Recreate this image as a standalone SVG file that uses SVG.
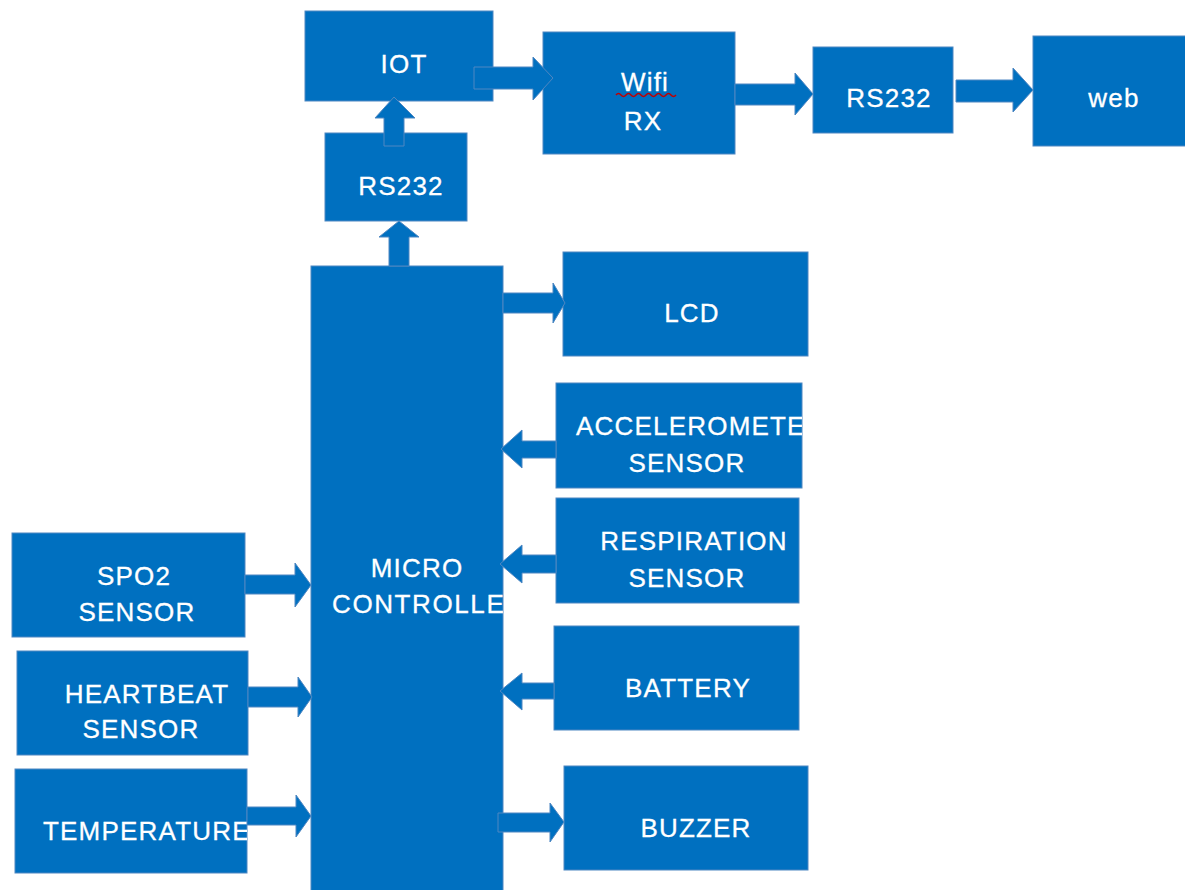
<svg xmlns="http://www.w3.org/2000/svg" width="1185" height="890" viewBox="0 0 1185 890">
<style>
.box{fill:#0070C0;stroke:#4F87C2;stroke-width:1}
.arr{fill:#0070C0;stroke:#4F87C2;stroke-width:1}
.t{font-family:"Liberation Sans",Arial,sans-serif;font-size:26px;fill:#FFFFFF;stroke:#FFFFFF;stroke-width:0.3;letter-spacing:1.2px}
.c{text-anchor:middle}
</style>
<defs>
<clipPath id="clipAcc"><rect x="556" y="383" width="246" height="105"/></clipPath>
<clipPath id="clipMcu"><rect x="311" y="266" width="192" height="625"/></clipPath>
<clipPath id="clipTemp"><rect x="15" y="769" width="232" height="104"/></clipPath>
</defs>
<rect width="1185" height="890" fill="#FFFFFF"/>
<g id="nodes">
<g id="iot"><rect class="box" x="305" y="11" width="188" height="90"/><text class="t c" x="404" y="73">IOT</text></g>
<g id="rs232a"><rect class="box" x="325" y="133" width="142" height="88"/><text class="t c" x="401" y="195">RS232</text></g>
<g id="wifi"><rect class="box" x="543" y="32" width="192" height="122"/><text class="t c" x="645" y="91">Wifi</text><path d="M616,95 q2.5,-3 5,0 t5,0 t5,0 t5,0 t5,0 t5,0 t5,0 t5,0 t5,0 t5,0 t5,0 t5,0" fill="none" stroke="#C00000" stroke-width="1.5"/><text class="t c" x="643" y="130">RX</text></g>
<g id="rs232b"><rect class="box" x="813" y="47" width="140" height="86"/><text class="t c" x="889" y="107">RS232</text></g>
<g id="web"><rect class="box" x="1033" y="36" width="153" height="110"/><text class="t c" x="1114" y="107">web</text></g>
<g id="mcu"><rect class="box" x="311" y="266" width="192" height="626"/><text class="t c" x="417" y="577">MICRO</text><text class="t" x="332" y="613" clip-path="url(#clipMcu)" style="letter-spacing:1.6px">CONTROLLE</text></g>
<g id="lcd"><rect class="box" x="563" y="252" width="245" height="104"/><text class="t c" x="692" y="322">LCD</text></g>
<g id="acc"><rect class="box" x="556" y="383" width="246" height="105"/><text class="t" x="576" y="435" clip-path="url(#clipAcc)">ACCELEROMETE</text><text class="t c" x="687" y="472">SENSOR</text></g>
<g id="resp"><rect class="box" x="556" y="498" width="243" height="105"/><text class="t c" x="694" y="550">RESPIRATION</text><text class="t c" x="687" y="587">SENSOR</text></g>
<g id="battery"><rect class="box" x="554" y="626" width="245" height="104"/><text class="t c" x="688" y="697">BATTERY</text></g>
<g id="buzzer"><rect class="box" x="564" y="766" width="244" height="104"/><text class="t c" x="696" y="837">BUZZER</text></g>
<g id="spo2"><rect class="box" x="12" y="533" width="233" height="104"/><text class="t c" x="134" y="585">SPO2</text><text class="t c" x="137" y="621">SENSOR</text></g>
<g id="heartbeat"><rect class="box" x="17" y="651" width="231" height="104"/><text class="t c" x="147" y="703">HEARTBEAT</text><text class="t c" x="141" y="738">SENSOR</text></g>
<g id="temp"><rect class="box" x="15" y="769" width="232" height="104"/><text class="t" x="43" y="840" clip-path="url(#clipTemp)">TEMPERATURE</text></g>
</g>
<g id="connectors">
<polygon class="arr" points="474,67 533,67 533,57 553,78 533,100 533,89 474,89"/>
<polygon class="arr" points="384,146 384,118 375,118 394,97 415,118 404,118 404,146"/>
<polygon class="arr" points="389,266 389,237 379,237 399,221 419,237 409,237 409,266"/>
<polygon class="arr" points="735,84 795,84 795,73 813,94 795,115 795,105 735,105"/>
<polygon class="arr" points="956,80 1013,80 1013,68 1033,90 1013,112 1013,102 956,102"/>
<polygon class="arr" points="503,293 553,293 553,283 565,303 553,323 553,313 503,313"/>
<polygon class="arr" points="556,441 522,441 522,430 501,449 522,468 522,458 556,458"/>
<polygon class="arr" points="556,555 522,555 522,545 500,564 522,583 522,573 556,573"/>
<polygon class="arr" points="554,683 522,683 522,673 500,691 522,710 522,699 554,699"/>
<polygon class="arr" points="498,813 550,813 550,803 564,822 550,842 550,832 498,832"/>
<polygon class="arr" points="245,575 295,575 295,563 311,585 295,607 295,594 245,594"/>
<polygon class="arr" points="248,687 298,687 298,677 312,697 298,717 298,707 248,707"/>
<polygon class="arr" points="247,807 296,807 296,795 311,816 296,837 296,825 247,825"/>
</g>
</svg>
